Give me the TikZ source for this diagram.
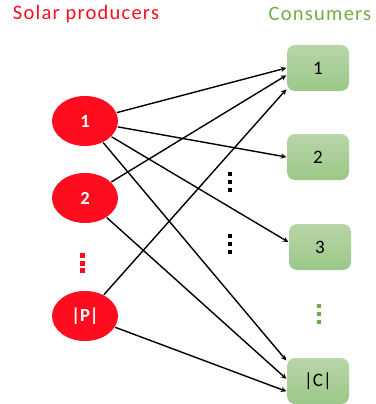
\documentclass[tikz,border=0pt]{standalone}
\usepackage{fontspec}
\setmainfont{Carlito}
\newfontfamily\titlefont[LetterSpace=6]{Carlito}
\usetikzlibrary{shapes.geometric}
\definecolor{prodred}{HTML}{FF0D1E}
\definecolor{consgreen}{HTML}{70AD47}
\definecolor{boxtop}{HTML}{B8D6A8}
\definecolor{boxbottom}{HTML}{9CC788}
\begin{document}
\begin{tikzpicture}[x=1pt,y=-1pt,
                    line width=1.4pt,>=stealth,
                    prod node/.style={ellipse,fill=prodred,text=white,minimum width=66pt,
                                      minimum height=50pt,inner sep=0pt,font=\fontsize{18.5}{20}\selectfont\bfseries},
                    cons node/.style={rectangle,rounded corners=8pt,top color=boxtop,bottom color=boxbottom,
                                      minimum width=62pt,minimum height=46pt,inner sep=0pt,font=\fontsize{19}{20}\selectfont},
                    title/.style={font=\titlefont\fontsize{20.5}{22}\selectfont}]
    \useasboundingbox (0,0) rectangle (375,404);

    % Define titles
    \node[title,text=prodred] (tp) at (86,14) {Solar producers};
    \node[title,text=consgreen] (tc) at (320,14) {Consumers};

    % Define vertices
    \node[prod node] (P1) at (85,121) {1};
    \node[prod node] (P2) at (85,198) {2};
    \node[prod node] (PP) at (85,316) {|P|};

    \node[cons node] (C1) at (318,68) {1};
    \node[cons node] (C2) at (318,157) {2};
    \node[cons node] (C3) at (320,247) {3};
    \node[cons node] (CC) at (318,381) {|C|};

    % Define dots
    \foreach \y in {174,182,190,236,244,252}
        \fill (228,\y-2) rectangle (232,\y+2);
    \foreach \y in {255,263,270}
        \fill[prodred] (80,\y-2.5) rectangle (85,\y+2.5);
    \foreach \y in {306,314,322}
        \fill[consgreen] (317,\y-2) rectangle (321,\y+2);

    % Define edges
    \draw[->] (P1) -- (C1.180);
    \draw[->] (P2) -- (C1.193);
    \draw[->] (PP) -- (C1.214);
    \draw[->] (P1) -- (C2.180);
    \draw[->] (P1) -- (C3.171);
    \draw[->] (P1) -- (CC.147);
    \draw[->] (P2) -- (CC.176);
    \draw[->] (PP) -- (CC.198);

\end{tikzpicture}
\end{document}
